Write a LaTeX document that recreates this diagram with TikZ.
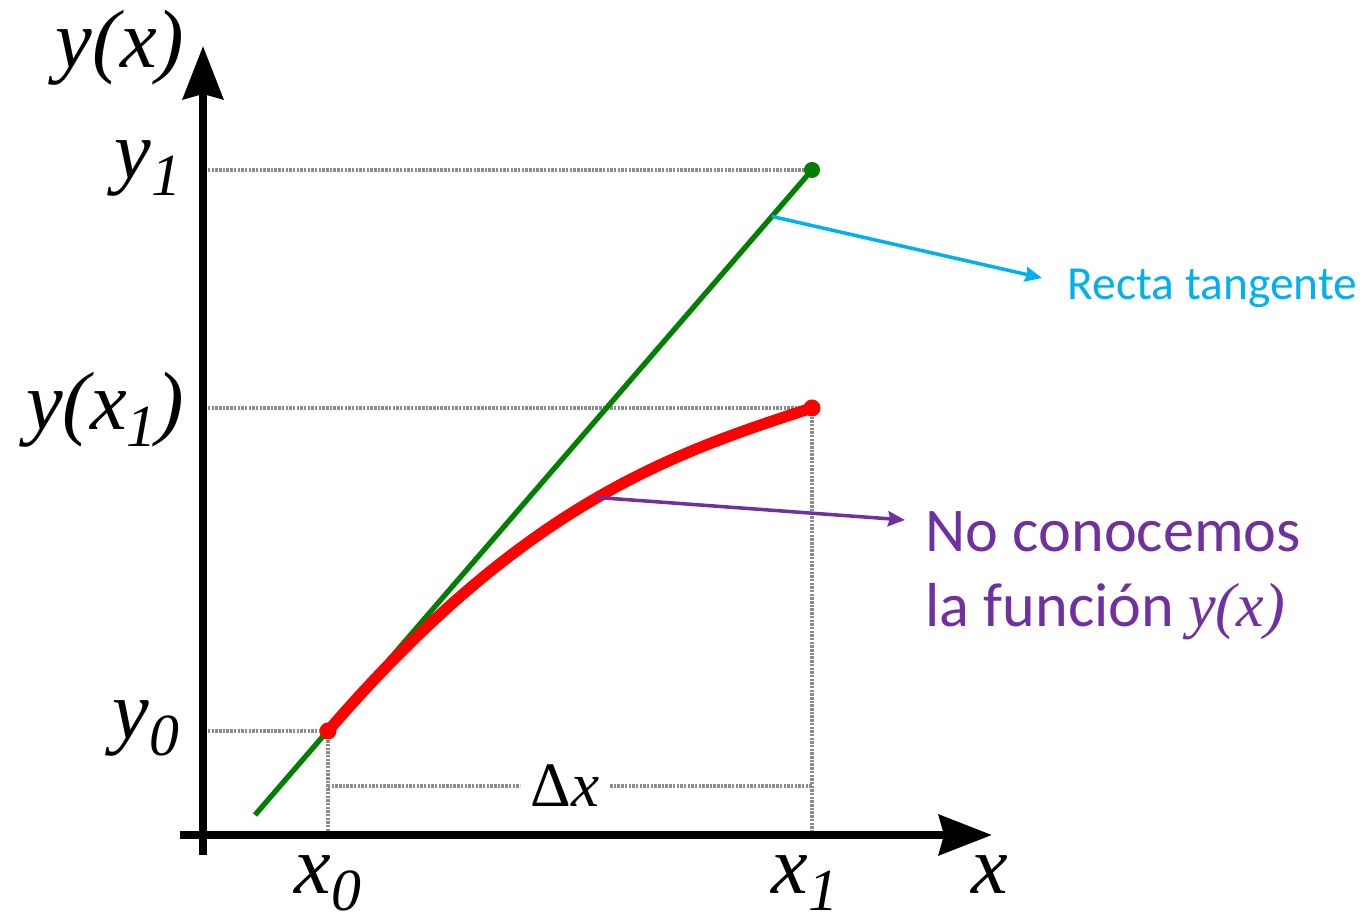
\documentclass[tikz,border=0pt]{standalone}
\usepackage{fontspec}
\setmainfont{Liberation Serif}
\newfontfamily\calibri{Carlito}
\usetikzlibrary{arrows.meta, calc, positioning}
\definecolor{tangentgreen}{HTML}{008000}
\definecolor{curvered}{HTML}{FF0000}
\definecolor{notecyan}{HTML}{00B0F0}
\definecolor{notepurple}{HTML}{7030A0}
\definecolor{guidegray}{HTML}{8C8C8C}
\newcommand{\lowidx}[1]{\raisebox{-0.45ex}{\fontsize{17}{17}\selectfont #1}}
\tikzset{
  axis/.style={-{Stealth[length=5.3mm, width=4mm, inset=0.5mm]}, line width=2.3pt},
  guide/.style={guidegray, line width=1.1pt, dash pattern=on 0.7pt off 0.35pt},
  tangent/.style={tangentgreen, line width=1.5pt},
  curve/.style={curvered, line width=3.2pt},
  note/.style={-{Stealth[length=1.7mm, width=1.5mm, inset=0.2mm]}, line width=1pt},
  lbl/.style={font=\fontsize{23.5}{23.5}\selectfont\itshape},
  every node/.append style={inner sep=0pt}
}
\begin{document}
\begin{tikzpicture}
\useasboundingbox (0,0) rectangle (13.71,9.13);
% points
\coordinate (P0) at (3.28,1.82);
\coordinate (P1) at (8.12,5.05);
\coordinate (T1) at (8.12,7.43);
\coordinate (gA) at (2.55,0.98);
\coordinate (yax) at (2.08,0);
\coordinate (xax) at (0,0.78);
% guide lines
\draw[guide] (yax |- T1) -- (T1);
\draw[guide] (yax |- P1) -- (P1) -- (P1 |- xax);
\draw[guide] (yax |- P0) -- (P0) -- (P0 |- xax);
\node[fill=white, inner xsep=1mm, font=\fontsize{18}{18}\selectfont] (dx) at (5.65,1.27) {Δ\textit{x}};
\draw[guide] (P0 |- dx) -- (dx.west);
\draw[guide] (dx.east) -- (P1 |- dx);
% axes
\coordinate (xA) at (1.80,0.78);
\coordinate (xB) at (9.92,0.78);
\coordinate (yA) at (2.03,0.58);
\coordinate (yB) at (2.03,8.67);
\draw[axis] (xA) -- (xB);
\draw[axis] (yA) -- (yB);
% tangent and curve
\draw[tangent] (gA) -- (T1) coordinate[pos=0.928] (ct);
\draw[curve] (P0) .. controls (5.24,4.09) and (6.70,4.59) .. (P1) coordinate[pos=0.515] (cm);
\fill[tangentgreen] (T1) circle (0.08);
\fill[curvered] (P0) circle (0.085);
\fill[curvered] (P1) circle (0.085);
% labels
\node[lbl, anchor=east] (lyx) at (1.85,8.65) {y(x)};
\node[lbl, anchor=east] (ly1) at (1.82,7.45) {y\lowidx{1}};
\node[lbl, anchor=east] (lyx1) at (1.85,5.03) {y(x\lowidx{1})};
\node[lbl, anchor=east] (ly0) at (1.80,1.85) {y\lowidx{0}};
\node[lbl, anchor=north] (lx0) at (3.28,0.58) {x\lowidx{0}};
\node[lbl, anchor=north] (lx1) at (8.05,0.58) {x\lowidx{1}};
\node[lbl, anchor=north] (lx) at (9.90,0.58) {x};
% notes
\coordinate (ctip) at (10.42,6.35);
\coordinate (mtip) at (9.05,3.93);
\node[anchor=base west, notecyan, font=\calibri\fontsize{13.5}{13.5}\selectfont] (rt) at (10.67,6.13) {Recta tangente};
\node[anchor=base west, notepurple, font=\calibri\fontsize{17.7}{17.7}\selectfont] (nc) at (9.25,3.61) {No conocemos};
\node[anchor=base west, notepurple, font=\calibri\fontsize{17.7}{17.7}\selectfont] (lf) at (9.25,2.86) {la función \textit{\rmfamily y(x)}};
\draw[note, notecyan] (ct) -- (ctip);
\draw[note, notepurple] (cm) -- (mtip);
\end{tikzpicture}
\end{document}
